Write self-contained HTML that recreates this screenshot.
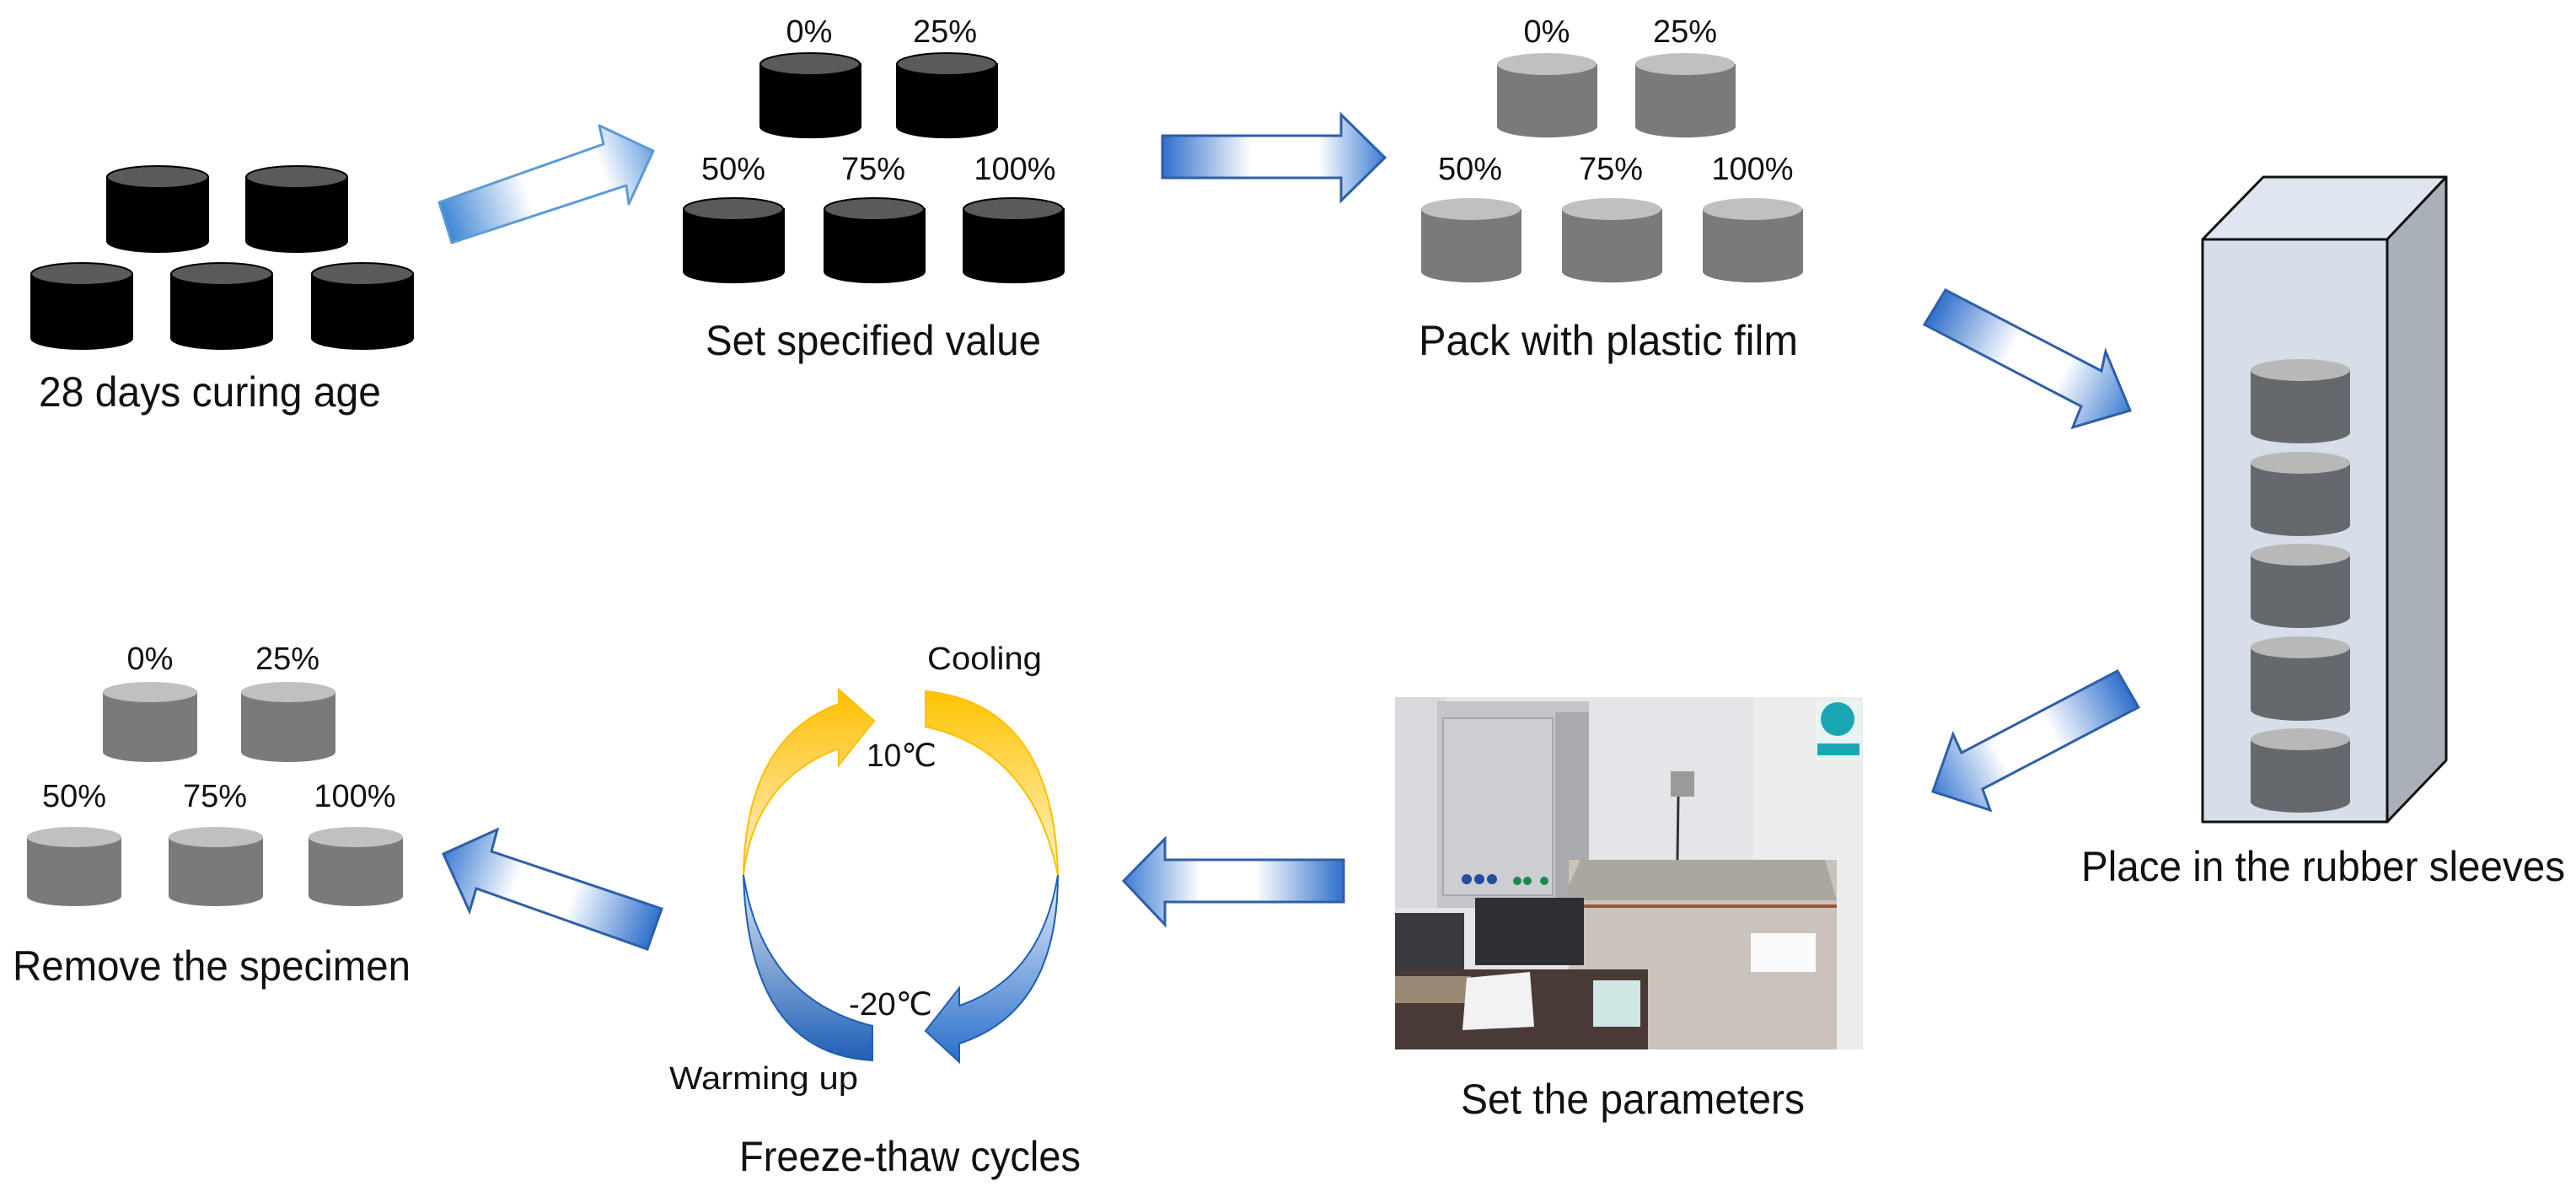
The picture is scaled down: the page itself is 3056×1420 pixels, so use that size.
<!DOCTYPE html>
<html><head><meta charset="utf-8"><style>
html,body{margin:0;padding:0;background:#fff}
svg{display:block}
text{font-family:"Liberation Sans",sans-serif;fill:#111}
</style></head><body>
<svg width="3056" height="1420" viewBox="0 0 3056 1420" xmlns="http://www.w3.org/2000/svg">
<defs>
<linearGradient id="a1" gradientUnits="userSpaceOnUse" x1="528" y1="264" x2="775" y2="179"><stop offset="0" stop-color="#3f86d6"/><stop offset="0.4" stop-color="#ffffff"/><stop offset="0.75" stop-color="#ffffff"/><stop offset="1" stop-color="#6aa2e0"/></linearGradient>
<linearGradient id="a2" gradientUnits="userSpaceOnUse" x1="1379" y1="0" x2="1643" y2="0"><stop offset="0" stop-color="#2f6fcc"/><stop offset="0.4" stop-color="#ffffff"/><stop offset="0.7" stop-color="#ffffff"/><stop offset="1" stop-color="#3d7cd3"/></linearGradient>
<linearGradient id="a3" gradientUnits="userSpaceOnUse" x1="2295" y1="365" x2="2527" y2="487"><stop offset="0" stop-color="#2f6fcc"/><stop offset="0.4" stop-color="#ffffff"/><stop offset="0.65" stop-color="#ffffff"/><stop offset="1" stop-color="#3d7cd3"/></linearGradient>
<linearGradient id="a4" gradientUnits="userSpaceOnUse" x1="2525" y1="818" x2="2293" y2="939"><stop offset="0" stop-color="#2f6fcc"/><stop offset="0.4" stop-color="#ffffff"/><stop offset="0.65" stop-color="#ffffff"/><stop offset="1" stop-color="#3d7cd3"/></linearGradient>
<linearGradient id="a5" gradientUnits="userSpaceOnUse" x1="1594" y1="0" x2="1333" y2="0"><stop offset="0" stop-color="#2f6fcc"/><stop offset="0.4" stop-color="#ffffff"/><stop offset="0.65" stop-color="#ffffff"/><stop offset="1" stop-color="#3d7cd3"/></linearGradient>
<linearGradient id="a6" gradientUnits="userSpaceOnUse" x1="777" y1="1102" x2="526" y2="1013"><stop offset="0" stop-color="#2f6fcc"/><stop offset="0.4" stop-color="#ffffff"/><stop offset="0.65" stop-color="#ffffff"/><stop offset="1" stop-color="#3d7cd3"/></linearGradient>
<linearGradient id="og" x1="0" y1="0" x2="0" y2="1"><stop offset="0" stop-color="#ffc000"/><stop offset="1" stop-color="#fdf0d0"/></linearGradient>
<linearGradient id="og2" x1="0" y1="0" x2="0" y2="1"><stop offset="0" stop-color="#ffc400"/><stop offset="1" stop-color="#fff3cc"/></linearGradient>
<linearGradient id="bg" x1="0" y1="0" x2="0" y2="1"><stop offset="0" stop-color="#dce6f4"/><stop offset="1" stop-color="#1f5fb4"/></linearGradient>
<linearGradient id="bg2" x1="0" y1="0" x2="0" y2="1"><stop offset="0" stop-color="#e6eef8"/><stop offset="1" stop-color="#2a6fcc"/></linearGradient>
</defs>

<!-- Group 1 black cylinders -->
<g stroke="#000" stroke-width="2">
<g fill="#000">
<path d="M127 210 v76 a60 13 0 0 0 120 0 v-76 z"/><path d="M292 210 v76 a60 13 0 0 0 120 0 v-76 z"/>
<path d="M37 325 v76 a60 13 0 0 0 120 0 v-76 z"/><path d="M203 325 v76 a60 13 0 0 0 120 0 v-76 z"/><path d="M370 325 v76 a60 13 0 0 0 120 0 v-76 z"/>
<path d="M902 76 v74 a59 13 0 0 0 119 0 v-74 z"/><path d="M1064 76 v74 a59 13 0 0 0 119 0 v-74 z"/>
<path d="M811 248 v74 a59 13 0 0 0 119 0 v-74 z"/><path d="M978 248 v74 a59 13 0 0 0 119 0 v-74 z"/><path d="M1143 248 v74 a59 13 0 0 0 119 0 v-74 z"/>
</g>
<g fill="#5a5a5a">
<ellipse cx="187" cy="210" rx="60" ry="13"/><ellipse cx="352" cy="210" rx="60" ry="13"/>
<ellipse cx="97" cy="325" rx="60" ry="13"/><ellipse cx="263" cy="325" rx="60" ry="13"/><ellipse cx="430" cy="325" rx="60" ry="13"/>
<ellipse cx="961" cy="76" rx="59" ry="13"/><ellipse cx="1123" cy="76" rx="59" ry="13"/>
<ellipse cx="870" cy="248" rx="59" ry="13"/><ellipse cx="1037" cy="248" rx="59" ry="13"/><ellipse cx="1202" cy="248" rx="59" ry="13"/>
</g>
</g>

<!-- gray group top right -->
<g fill="#7a7a7a">
<path d="M1776 76 v74 a59 13 0 0 0 119 0 v-74 z"/><path d="M1940 76 v74 a59 13 0 0 0 119 0 v-74 z"/>
<path d="M1686 248 v74 a59 13 0 0 0 119 0 v-74 z"/><path d="M1853 248 v74 a59 13 0 0 0 119 0 v-74 z"/><path d="M2020 248 v74 a59 13 0 0 0 119 0 v-74 z"/>
</g>
<g fill="#c0c0c0">
<ellipse cx="1835" cy="76" rx="59" ry="13"/><ellipse cx="1999" cy="76" rx="59" ry="13"/>
<ellipse cx="1745" cy="248" rx="59" ry="13"/><ellipse cx="1912" cy="248" rx="59" ry="13"/><ellipse cx="2079" cy="248" rx="59" ry="13"/>
</g>

<!-- gray group bottom left -->
<g fill="#7a7a7a">
<path d="M122 821 v71 a56 12 0 0 0 112 0 v-71 z"/><path d="M286 821 v71 a56 12 0 0 0 112 0 v-71 z"/>
<path d="M32 993 v70 a56 12 0 0 0 112 0 v-70 z"/><path d="M200 993 v70 a56 12 0 0 0 112 0 v-70 z"/><path d="M366 993 v70 a56 12 0 0 0 112 0 v-70 z"/>
</g>
<g fill="#c0c0c0">
<ellipse cx="178" cy="821" rx="56" ry="12"/><ellipse cx="342" cy="821" rx="56" ry="12"/>
<ellipse cx="88" cy="993" rx="56" ry="12"/><ellipse cx="256" cy="993" rx="56" ry="12"/><ellipse cx="422" cy="993" rx="56" ry="12"/>
</g>

<!-- Box -->
<g stroke="#111" stroke-width="3" stroke-linejoin="round">
<polygon points="2613,284 2685,210 2902,210 2832,284" fill="#dfe6ef"/>
<polygon points="2832,284 2902,210 2902,902 2832,975" fill="#a9b0b8"/>
<rect x="2613" y="284" width="219" height="691" fill="#d6dfe9"/>
</g>
<g fill="#65696d">
<path d="M2670 439 v74 a59 13 0 0 0 118 0 v-74 z"/><path d="M2670 549 v74 a59 13 0 0 0 118 0 v-74 z"/><path d="M2670 658 v74 a59 13 0 0 0 118 0 v-74 z"/><path d="M2670 768 v74 a59 13 0 0 0 118 0 v-74 z"/><path d="M2670 877 v74 a59 13 0 0 0 118 0 v-74 z"/>
</g>
<g fill="#b8b8b8">
<ellipse cx="2729" cy="439" rx="59" ry="13"/><ellipse cx="2729" cy="549" rx="59" ry="13"/><ellipse cx="2729" cy="658" rx="59" ry="13"/><ellipse cx="2729" cy="768" rx="59" ry="13"/><ellipse cx="2729" cy="877" rx="59" ry="13"/>
</g>

<!-- Arrows -->
<polygon points="521,240 716,171 711,149 775,179 746,242 743,220 536,288" fill="url(#a1)" stroke="#5b9bd5" stroke-width="3" stroke-linejoin="round"/>
<polygon points="1379,161 1591,161 1591,136 1643,187 1591,238 1591,211 1379,211" fill="url(#a2)" stroke="#2e5fa8" stroke-width="3"/>
<polygon points="2308,344 2493,440 2498,417 2527,487 2459,507 2469,482 2283,385" fill="url(#a3)" stroke="#2e5fa8" stroke-width="3"/>
<polygon points="2512,796 2327,893 2317,871 2293,939 2361,961 2352,936 2537,839" fill="url(#a4)" stroke="#2e5fa8" stroke-width="3"/>
<polygon points="1594,1020 1382,1020 1382,995 1333,1045 1382,1097 1382,1070 1594,1070" fill="url(#a5)" stroke="#2e5fa8" stroke-width="3"/>
<polygon points="526,1013 590,984 583,1010 785,1078 768,1126 565,1054 557,1081" fill="url(#a6)" stroke="#2e5fa8" stroke-width="3"/>

<!-- Cycle -->
<path d="M882 1038 Q885 875 995 835 L995 818 L1037 855 L995 908 L995 888 Q895 925 882 1038 Z" fill="url(#og)" stroke="#ffc000" stroke-width="2"/>
<path d="M1098 820 Q1250 835 1255 1038 Q1225 890 1098 862 Z" fill="url(#og2)" stroke="#ffc000" stroke-width="2"/>
<path d="M882 1038 Q888 1250 1035 1258 L1035 1217 Q905 1185 882 1038 Z" fill="url(#bg)" stroke="#1f5fb4" stroke-width="2"/>
<path d="M1255 1038 Q1255 1200 1138 1238 L1138 1260 L1098 1223 L1138 1172 L1138 1193 Q1235 1160 1255 1038 Z" fill="url(#bg2)" stroke="#1f5fb4" stroke-width="2"/>

<!-- Photo -->
<g>
<rect x="1655" y="827" width="555" height="418" fill="#e4e5e8"/>
<rect x="1655" y="827" width="60" height="250" fill="#d8d9dc"/>
<rect x="2080" y="827" width="130" height="418" fill="#ececec"/>
<rect x="1705" y="832" width="180" height="245" fill="#c4c5c8"/>
<rect x="1712" y="852" width="130" height="210" fill="#cdced1" stroke="#a8a9ac" stroke-width="2"/>
<rect x="1845" y="845" width="40" height="232" fill="#a9aaae"/>
<g fill="#1f4fa0"><circle cx="1740" cy="1043" r="6"/><circle cx="1755" cy="1043" r="6"/><circle cx="1770" cy="1043" r="6"/></g>
<g fill="#1a8a4e"><circle cx="1800" cy="1045" r="5"/><circle cx="1812" cy="1045" r="5"/><circle cx="1832" cy="1045" r="5"/></g>
<rect x="1982" y="915" width="28" height="30" fill="#9a9a9a"/>
<path d="M1991 945 L1990 1020" stroke="#333" stroke-width="3"/>
<rect x="2154" y="832" width="54" height="70" fill="#e8f4f4"/>
<circle cx="2180" cy="853" r="20" fill="#1aa7b3"/>
<rect x="2156" y="882" width="50" height="14" fill="#1aa7b3"/>
<rect x="1861" y="1020" width="318" height="225" fill="#c9c3bb"/>
<polygon points="1861,1050 1875,1020 2165,1020 2179,1068 1861,1068" fill="#aaa6a0"/>
<rect x="1861" y="1073" width="318" height="4" fill="#a5503e"/>
<rect x="2077" y="1107" width="77" height="46" fill="#fafafa"/>
<rect x="1655" y="1083" width="82" height="90" fill="#3a3b3f"/>
<rect x="1750" y="1065" width="129" height="80" fill="#2e2f33"/>
<rect x="1655" y="1150" width="300" height="95" fill="#4a3a35"/>
<rect x="1655" y="1158" width="90" height="32" fill="#9a8a74"/>
<polygon points="1740,1160 1815,1153 1820,1218 1735,1222" fill="#f2f2f2"/>
<rect x="1890" y="1163" width="56" height="55" fill="#cfe6e4"/>
</g>

<!-- Labels -->
<g font-size="50">
<text x="46" y="482" textLength="406" lengthAdjust="spacingAndGlyphs">28 days curing age</text>
<text x="837" y="421" textLength="398" lengthAdjust="spacingAndGlyphs">Set specified value</text>
<text x="1683" y="421" textLength="450" lengthAdjust="spacingAndGlyphs">Pack with plastic film</text>
<text x="2469" y="1045" textLength="574" lengthAdjust="spacingAndGlyphs">Place in the rubber sleeves</text>
<text x="1733" y="1321" textLength="408" lengthAdjust="spacingAndGlyphs">Set the parameters</text>
<text x="15" y="1163" textLength="472" lengthAdjust="spacingAndGlyphs">Remove the specimen</text>
<text x="877" y="1389" textLength="405" lengthAdjust="spacingAndGlyphs">Freeze-thaw cycles</text>
</g>
<g font-size="38" text-anchor="middle">
<text x="960" y="50">0%</text><text x="1121" y="50">25%</text>
<text x="870" y="213">50%</text><text x="1036" y="213">75%</text><text x="1204" y="213">100%</text>
<text x="1835" y="50">0%</text><text x="1999" y="50">25%</text>
<text x="1744" y="213">50%</text><text x="1911" y="213">75%</text><text x="2079" y="213">100%</text>
<text x="178" y="794">0%</text><text x="341" y="794">25%</text>
<text x="88" y="957">50%</text><text x="255" y="957">75%</text><text x="421" y="957">100%</text>
</g>
<g font-size="38">
<text x="1100" y="794" textLength="136" lengthAdjust="spacingAndGlyphs">Cooling</text>
<text x="1028" y="909" textLength="83" lengthAdjust="spacingAndGlyphs">10℃</text>
<text x="1007" y="1204" textLength="99" lengthAdjust="spacingAndGlyphs">-20℃</text>
<text x="794" y="1292" textLength="224" lengthAdjust="spacingAndGlyphs">Warming up</text>
</g>
</svg>
</body></html>
